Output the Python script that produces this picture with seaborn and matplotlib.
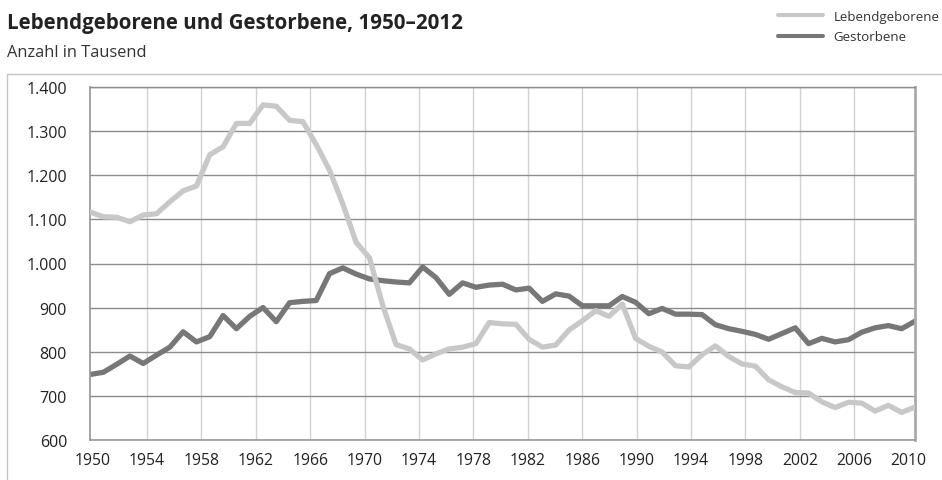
import pandas as pd
import seaborn as sns
import matplotlib.pyplot as plt
from matplotlib.lines import Line2D
from matplotlib.ticker import FuncFormatter

# Daten in Tausend
jahre = list(range(1950, 2013))
lebendgeborene = [1117, 1106, 1105, 1095, 1110, 1113, 1140, 1165, 1176, 1247,
                  1265, 1318, 1318, 1360, 1357, 1325, 1322, 1270, 1212, 1135,
                  1048, 1013, 905, 816, 806, 781, 795, 806, 810, 818,
                  866, 863, 862, 828, 810, 815, 849, 870, 893, 880,
                  908, 830, 812, 799, 768, 765, 793, 813, 789, 772,
                  767, 736, 720, 707, 706, 686, 673, 685, 683, 665,
                  678, 662, 674]
gestorbene = [748, 753, 771, 790, 773, 792, 810, 845, 822, 834,
              882, 852, 880, 900, 868, 911, 914, 916, 977, 990,
              976, 965, 961, 958, 956, 992, 968, 930, 956, 946,
              951, 953, 940, 944, 914, 931, 926, 904, 904, 904,
              925, 912, 886, 898, 885, 885, 884, 861, 852, 846,
              839, 828, 841, 854, 818, 830, 822, 827, 844, 854,
              859, 852, 869]
label_jahre = list(range(1950, 2011, 4))
y_ticks = list(range(600, 1401, 100))

df = pd.DataFrame({
    'Jahr': jahre * 2,
    'Anzahl': lebendgeborene + gestorbene,
    'Reihe': ['Lebendgeborene'] * len(jahre) + ['Gestorbene'] * len(jahre),
})

sns.set_theme(style='white')
plt.rcParams['font.family'] = ['Open Sans', 'DejaVu Sans']

W, H = 942, 481
fig = plt.figure(figsize=(W / 100, H / 100), dpi=100)
ax = fig.add_axes([90 / W, 1 - 440.7 / H, 825 / W, 352.4 / H])
ax2 = ax.twiny()
ax2.set_zorder(0)
ax.set_zorder(1)
ax.patch.set_visible(False)

farben = {'Lebendgeborene': '#c8c8c8', 'Gestorbene': '#777777'}
sns.lineplot(data=df, x='Jahr', y='Anzahl', hue='Reihe', palette=farben,
             linewidth=3.8, ax=ax)
for line in ax.get_lines():
    if line.get_color() == farben['Lebendgeborene']:
        line.set_zorder(3)

ax.set_xlim(1950, 2012)
ax.set_ylim(600, 1400)
ax.set_xticks([])
ax.set_yticks(y_ticks)
ax.yaxis.set_major_formatter(FuncFormatter(lambda v, p: f'{v:,.0f}'.replace(',', '.')))
ax.tick_params(axis='y', length=0, pad=16.5, labelsize=11.5, labelcolor='#222222')
ax.set_xlabel('')
ax.set_ylabel('')
ax.set_axisbelow(True)
ax.yaxis.grid(True, color='#8c8c8c', linewidth=1.0)

ax2.set_xlim(1949.81, 2010.47)
ax2.set_xticks(label_jahre)
ax2.xaxis.tick_bottom()
ax2.tick_params(axis='x', length=0, pad=9, labelsize=11.3, labelcolor='#222222')
ax2.xaxis.grid(True, color='#d2d2d2', linewidth=1.0)
gl = ax2.get_xgridlines()
gl[0].set_visible(False)
gl[-1].set_visible(False)
for s in ax2.spines.values():
    s.set_visible(False)

ax.spines['left'].set_color('#999999')
ax.spines['bottom'].set_color('#999999')
ax.spines['bottom'].set_linewidth(1.2)
ax.spines['top'].set_color('#8c8c8c')
ax.spines['top'].set_linewidth(1.0)
ax.spines['right'].set_color('#aaaaaa')
ax.spines['right'].set_linewidth(2.0)

sns.move_legend(ax, 'upper right', bbox_to_anchor=(1.006, 1 - 3 / H),
                bbox_transform=fig.transFigure, frameon=False, title=None,
                fontsize=9.5, handlelength=3.4, handletextpad=0.85,
                labelspacing=0.55, borderpad=0.6, borderaxespad=0)
for l in ax.get_legend().get_lines():
    l.set_linewidth(2.9)
for t in ax.get_legend().get_texts():
    t.set_color('#333333')

fig.text(7 / W, 1 - 29 / H, 'Lebendgeborene und Gestorbene, 1950–2012',
         fontsize=14.8, fontweight='bold', color='#222222', va='baseline')
fig.text(7 / W, 1 - 57 / H, 'Anzahl in Tausend', fontsize=11.8,
         color='#333333', va='baseline')

fig.add_artist(Line2D([7 / W, 7 / W], [0, 1 - 75 / H], transform=fig.transFigure,
                      color='#c4c4c4', linewidth=1.0))
fig.add_artist(Line2D([7 / W, 1], [1 - 75 / H, 1 - 75 / H], transform=fig.transFigure,
                      color='#c4c4c4', linewidth=1.0))

fig.savefig('out.png', dpi=100)
